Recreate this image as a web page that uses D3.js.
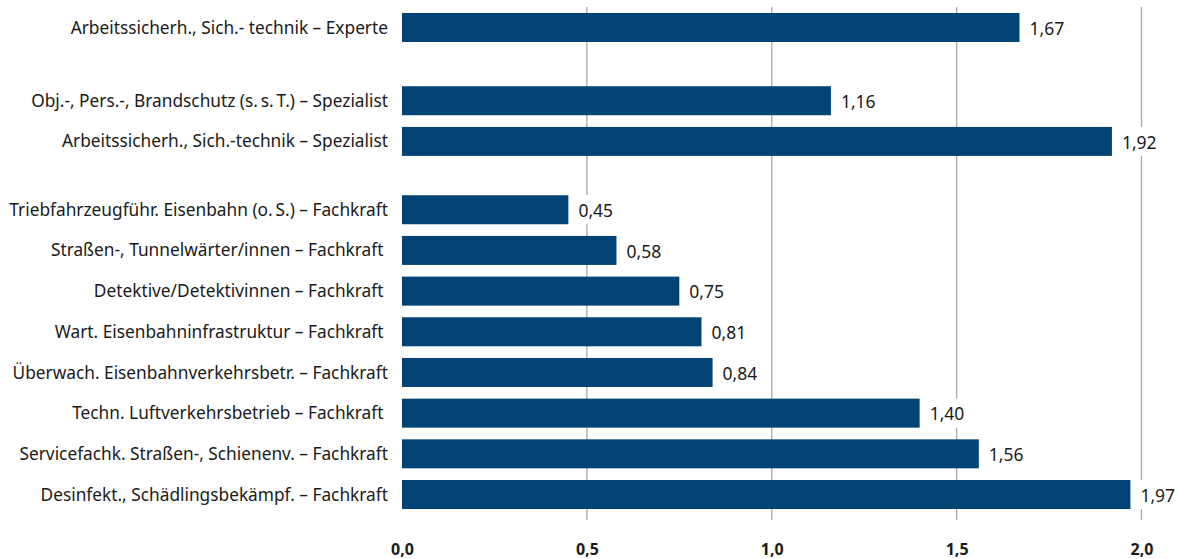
<!DOCTYPE html>
<html>
<head>
<meta charset="utf-8">
<script src="https://cdn.jsdelivr.net/npm/d3@7"></script>
<style>
  body { margin: 0; background: #fff; }
  text { font-family: "Noto Sans", sans-serif; fill: #1a1a1a; }
</style>
</head>
<body>
<div id="chart"></div>
<script>
// data
var categories = [
    "Arbeitssicherh., Sich.- technik – Experte",
    "Obj.-, Pers.-, Brandschutz (s.\u2009s.\u2009T.) – Spezialist",
    "Arbeitssicherh., Sich.-technik – Spezialist",
    "Triebfahrzeugführ. Eisenbahn (o.\u2009S.) – Fachkraft",
    "Straßen-, Tunnelwärter/innen – Fachkraft\u00a0",
    "Detektive/Detektivinnen – Fachkraft\u00a0",
    "Wart. Eisenbahninfrastruktur – Fachkraft\u00a0",
    "Überwach. Eisenbahnverkehrsbetr. – Fachkraft",
    "Techn. Luftverkehrsbetrieb – Fachkraft\u00a0",
    "Servicefachk. Straßen-, Schienenv. – Fachkraft",
    "Desinfekt., Schädlingsbekämpf. – Fachkraft"
];
var values = [1.67, 1.16, 1.92, 0.45, 0.58, 0.75, 0.81, 0.84, 1.40, 1.56, 1.97];
var groups = [0, 1, 1, 2, 2, 2, 2, 2, 2, 2, 2];
var xTicks = [0, 0.5, 1, 1.5, 2];

var width = 1178, height = 559;
var x0 = 402, x1 = 1141.5;
var rowStep = 40.68, barH = 29, topY = 13;
var groupGap = [0, 0.8, 0.68]; // extra space (in rows) before each group

var de = d3.formatLocale({decimal: ",", thousands: ".", grouping: [3], currency: ["", " €"]});
var fmtTick = de.format(".1f"), fmtVal = de.format(".2f");

// row positions incl. group gaps
var pos = [], acc = 0;
categories.forEach(function(c, i) {
    if (i > 0 && groups[i] !== groups[i - 1]) acc += groupGap[groups[i]];
    pos.push(i + acc);
});

var svg = d3.select("#chart").append("svg")
    .attr("width", width)
    .attr("height", height);

var x = d3.scaleLinear().domain([0, 2]).range([x0, x1]);
var y = d3.scaleLinear().domain([0, 1]).range([topY, topY + rowStep]);

// grid
svg.append("g").selectAll("line")
    .data(xTicks.filter(function(d) { return d > 0; }))
    .join("line")
    .attr("x1", function(d) { return x(d); })
    .attr("x2", function(d) { return x(d); })
    .attr("y1", 7)
    .attr("y2", 520)
    .attr("stroke", "#a9a9a9")
    .attr("stroke-width", 1.3);

var rows = svg.append("g").selectAll("g")
    .data(values)
    .join("g")
    .attr("transform", function(d, i) { return "translate(0," + y(pos[i]) + ")"; });

rows.append("rect")
    .attr("x", x(0))
    .attr("y", 0)
    .attr("width", function(d) { return x(d) - x(0); })
    .attr("height", barH)
    .attr("fill", "#004374");

// category labels
rows.append("text")
    .attr("x", 388)
    .attr("y", barH / 2)
    .attr("dy", "0.35em")
    .attr("text-anchor", "end")
    .style("font-size", "17.3px")
    .text(function(d, i) { return categories[i]; });

// value labels with white backing
var vl = rows.append("text")
    .attr("class", "val")
    .attr("x", function(d) { return x(d) + 10; })
    .attr("y", barH / 2 + 1)
    .attr("dy", "0.35em")
    .style("font-size", "17.5px")
    .text(function(d) { return fmtVal(d); });

vl.each(function(d) {
    var node = this;
    var bb = node.getBBox();
    d3.select(node.parentNode).insert("rect", function() { return node; })
        .attr("x", bb.x - 4)
        .attr("y", 0)
        .attr("width", bb.width + 6)
        .attr("height", barH)
        .attr("fill", "#fff");
});

// x axis
var xAxis = d3.axisBottom(x)
    .tickValues(xTicks)
    .tickSize(0)
    .tickFormat(fmtTick);

var ax = svg.append("g")
    .attr("transform", "translate(0,540)")
    .call(xAxis);
ax.select(".domain").remove();
ax.selectAll("text")
    .attr("dy", 0)
    .attr("y", 15)
    .style("font-family", "'Noto Sans', sans-serif")
    .style("font-size", "16px")
    .style("font-weight", "bold")
    .style("fill", "#1a1a1a");
</script>
</body>
</html>
